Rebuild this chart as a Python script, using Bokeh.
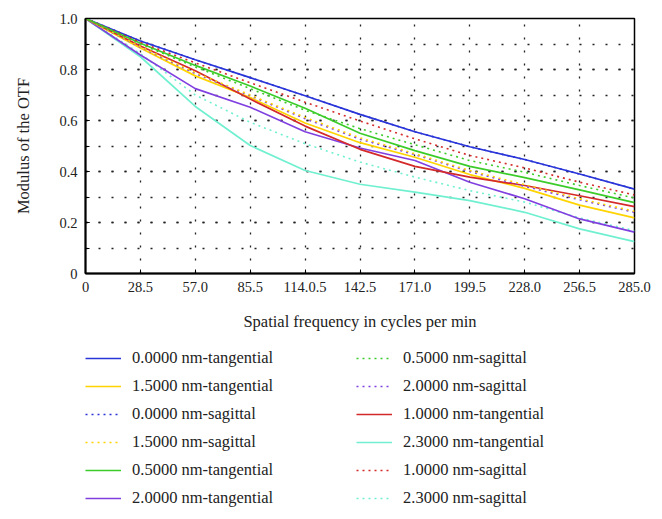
from bokeh.plotting import figure
from bokeh.models import Legend, LegendItem, FixedTicker, Range1d
from bokeh.layouts import column
from bokeh.embed import file_html
from bokeh.resources import INLINE

# ---- data ----
freq = [0, 28.5, 57.0, 85.5, 114.0, 142.5, 171.0, 199.5, 228.0, 256.5, 285.0]
x_tick_labels = ["0", "28.5", "57.0", "85.5", "114.0.5", "142.5", "171.0", "199.5", "228.0", "256.5", "285.0"]
y_ticks = [0, 0.2, 0.4, 0.6, 0.8, 1.0]
y_tick_labels = ["0", "0.2", "0.4", "0.6", "0.8", "1.0"]
y_minor = [0, 0.1, 0.2, 0.3, 0.4, 0.5, 0.6, 0.7, 0.8, 0.9, 1.0]

t00 = [1.0, 0.912, 0.838, 0.768, 0.697, 0.624, 0.556, 0.497, 0.447, 0.390, 0.331]
s00 = [1.0, 0.912, 0.838, 0.768, 0.697, 0.624, 0.556, 0.497, 0.447, 0.390, 0.331]
t05 = [1.0, 0.903, 0.816, 0.735, 0.648, 0.550, 0.482, 0.420, 0.376, 0.328, 0.278]
s05 = [1.0, 0.900, 0.810, 0.725, 0.640, 0.568, 0.505, 0.443, 0.397, 0.345, 0.296]
t10 = [1.0, 0.892, 0.795, 0.684, 0.578, 0.487, 0.420, 0.378, 0.345, 0.305, 0.262]
s10 = [1.0, 0.906, 0.826, 0.748, 0.672, 0.598, 0.528, 0.463, 0.414, 0.358, 0.308]
t15 = [1.0, 0.884, 0.775, 0.690, 0.590, 0.513, 0.456, 0.388, 0.334, 0.268, 0.218]
s15 = [1.0, 0.890, 0.788, 0.700, 0.612, 0.532, 0.470, 0.404, 0.348, 0.293, 0.244]
t20 = [1.0, 0.857, 0.725, 0.652, 0.556, 0.492, 0.443, 0.358, 0.293, 0.214, 0.162]
s20 = [1.0, 0.887, 0.784, 0.697, 0.607, 0.527, 0.466, 0.400, 0.342, 0.289, 0.240]
t23 = [1.0, 0.850, 0.655, 0.502, 0.404, 0.350, 0.319, 0.286, 0.240, 0.175, 0.125]
s23 = [1.0, 0.862, 0.700, 0.593, 0.509, 0.437, 0.378, 0.325, 0.280, 0.218, 0.168]

names = {
    "t00": "0.0000 nm-tangential", "s00": "0.0000 nm-sagittal",
    "t05": "0.5000 nm-tangential", "s05": "0.5000 nm-sagittal",
    "t10": "1.0000 nm-tangential", "s10": "1.0000 nm-sagittal",
    "t15": "1.5000 nm-tangential", "s15": "1.5000 nm-sagittal",
    "t20": "2.0000 nm-tangential", "s20": "2.0000 nm-sagittal",
    "t23": "2.3000 nm-tangential", "s23": "2.3000 nm-sagittal",
}
series = {"t00": t00, "s00": s00, "t05": t05, "s05": s05, "t10": t10, "s10": s10,
          "t15": t15, "s15": s15, "t20": t20, "s20": s20, "t23": t23, "s23": s23}
colors = {"00": "#2a35d8", "05": "#3ccc2a", "10": "#d42a2a",
          "15": "#ffd400", "20": "#8040e0", "23": "#70f0d0"}

legend_order = ["t00", "t15", "s00", "s15", "t05", "t20",
                "s05", "s20", "t10", "t23", "s10", "s23"]

FONT = "Liberation Serif"


def style_kwargs(key):
    col = colors[key[1:]]
    if key.startswith("t"):
        return dict(line_color=col, line_width=1.7)
    return dict(line_color=col, line_width=1.6, line_dash="2 4")


# ---- main chart ----
p = figure(frame_width=549, frame_height=255, output_backend="svg", toolbar_location=None,
           x_range=Range1d(0, 285), y_range=Range1d(0, 1.0),
           min_border_left=84, min_border_right=21, min_border_top=18, min_border_bottom=70)
p.background_fill_color = "white"
p.border_fill_color = "white"
p.outline_line_color = "black"
p.outline_line_width = 1.5

draw_order = ["s00", "t00", "t23", "s23", "t20", "t15", "t10", "t05", "s20", "s15", "s10", "s05"]
for key in draw_order:
    p.line(freq, series[key], **style_kwargs(key))

p.xaxis.ticker = FixedTicker(ticks=freq, minor_ticks=[])
p.xaxis.major_label_overrides = {t: lab for t, lab in zip(freq, x_tick_labels)}
p.yaxis.ticker = FixedTicker(ticks=y_ticks, minor_ticks=y_minor)
p.yaxis.major_label_overrides = {t: lab for t, lab in zip(y_ticks, y_tick_labels)}

for ax in (p.xaxis, p.yaxis):
    ax.axis_line_color = "black"
    ax.axis_line_width = 2
    ax.major_tick_out = 0
    ax.major_tick_in = 4
    ax.minor_tick_out = 0
    ax.minor_tick_in = 4
    ax.major_tick_line_color = "black"
    ax.minor_tick_line_color = "black"
    ax.major_label_text_font = FONT
    ax.major_label_text_font_size = "14.5px"
    ax.major_label_text_color = "#222222"
    ax.axis_label_text_font = FONT
    ax.axis_label_text_font_style = "normal"
    ax.axis_label_text_color = "#222222"

p.xaxis.axis_label = "Spatial frequency in cycles per min"
p.yaxis.axis_label = "Modulus of the OTF"
p.xaxis.axis_label_text_font_size = "16.5px"
p.yaxis.axis_label_text_font_size = "16.5px"
p.xaxis.major_label_standoff = 8
p.xaxis.axis_label_standoff = 17
p.yaxis.major_label_standoff = 8
p.yaxis.axis_label_standoff = 23

for g in (p.xgrid, p.ygrid):
    g.grid_line_color = "#222222"
    g.grid_line_dash = "2 11"
    g.grid_line_width = 1.3
p.ygrid.minor_grid_line_color = "#222222"
p.ygrid.minor_grid_line_dash = "2 11"
p.ygrid.minor_grid_line_width = 1.3

# ---- legend panel: legend-key renderers with the same line styles (no visible marks) ----
p2 = figure(width=646, height=170, output_backend="svg", toolbar_location=None,
            x_range=Range1d(0, 1), y_range=Range1d(0, 1),
            min_border_left=85, min_border_right=0, min_border_top=5, min_border_bottom=0)
p2.xaxis.visible = False
p2.yaxis.visible = False
p2.xgrid.visible = False
p2.ygrid.visible = False
p2.outline_line_color = None
p2.background_fill_color = "white"
p2.border_fill_color = "white"

nan = float("nan")
keys = {}
for key in legend_order:
    keys[key] = p2.line([nan, nan], [nan, nan], **style_kwargs(key))

items = [LegendItem(label=names[k], renderers=[keys[k]]) for k in legend_order]
leg = Legend(items=items, location="top_left", orientation="vertical", nrows=6, ncols=2,
             glyph_width=36, glyph_height=20, label_height=20, label_width=216,
             label_standoff=11, spacing=8, padding=0, margin=0,
             border_line_color=None, background_fill_alpha=0,
             label_text_font=FONT, label_text_font_size="16.5px",
             label_text_color="#222222")
p2.add_layout(leg)

layout = column(p, p2, spacing=0)
open("out.html", "w").write(file_html(layout, INLINE))
